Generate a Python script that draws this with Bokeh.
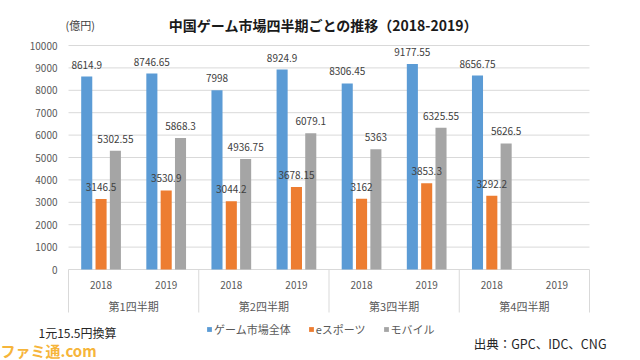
import math
from bokeh.plotting import figure
from bokeh.models import Range1d, FixedTicker, Legend, LegendItem, ColumnDataSource
from bokeh.core.properties import value
from bokeh.embed import file_html
from bokeh.resources import INLINE

# ---------------- data ----------------
quarters = ["第1四半期", "第2四半期", "第3四半期", "第4四半期"]
years = ["2018", "2019"]
series_names = ["ゲーム市場全体", "eスポーツ", "モバイル"]
market_total = [8614.9, 8746.65, 7998, 8924.9, 8306.45, 9177.55, 8656.75, float("nan")]
esports = [3146.5, 3530.9, 3044.2, 3678.15, 3162, 3853.3, 3292.2, float("nan")]
mobile = [5302.55, 5868.3, 4936.75, 6079.1, 5363, 6325.55, 5626.5, float("nan")]
y_ticks = [0, 1000, 2000, 3000, 4000, 5000, 6000, 7000, 8000, 9000, 10000]

title_text = "中国ゲーム市場四半期ごとの推移（2018-2019）"
unit_text = "(億円)"
note_text = "1元15.5円換算"
source_text = "出典：GPC、IDC、CNG"
logo_text = "ファミ通.com"

# ---------------- style / layout ----------------
FONT = "Noto Sans CJK JP"
colors = ["#5B9BD5", "#ED7D31", "#A5A5A5"]
GRID = "#D9D9D9"
W, H = 640, 360
PLOT_L, PLOT_R = 68, 589            # pixel extent of the category area
Y0_PX, Y10K_PX = 269, 45            # pixel rows of value 0 and 10000
LABEL_RIGHT = 57                    # right edge of the y tick labels
Y_MAX = y_ticks[-1]

def py(row):
    return (Y0_PX - row) / (Y0_PX - Y10K_PX) * Y_MAX

n_slots = len(quarters) * len(years)
slot_px = (PLOT_R - PLOT_L) / n_slots

def px(col):
    return (col - PLOT_L) / slot_px

p = figure(width=W, height=H, output_backend="svg", toolbar_location=None,
           x_range=Range1d(px(0), px(W)), y_range=Range1d(py(H), py(0)),
           x_axis_location=None, y_axis_location="left", min_border=0,
           min_border_left=0, min_border_right=0, min_border_top=0, min_border_bottom=0)
p.outline_line_color = None
p.background_fill_color = "white"
p.border_fill_color = "white"
p.grid.visible = False

ax = p.yaxis[0]
ax.ticker = FixedTicker(ticks=y_ticks)
ax.axis_line_color = None
ax.major_tick_line_color = None
ax.minor_tick_line_color = None
ax.major_tick_out = 0
ax.major_tick_in = 0
ax.major_label_standoff = -LABEL_RIGHT
ax.major_label_text_font = FONT
ax.major_label_text_font_size = "10px"
ax.major_label_text_color = "#595959"

# horizontal gridlines at the tick values, across the category area
p.segment(x0=[0] * len(y_ticks), y0=y_ticks, x1=[n_slots] * len(y_ticks), y1=y_ticks,
          line_color=GRID, line_width=1)

# category box separators (two-level axis)
sep_x = [q * len(years) for q in range(len(quarters) + 1)]
p.segment(x0=sep_x, y0=[0] * len(sep_x), x1=sep_x, y1=[py(312)] * len(sep_x),
          line_color=GRID, line_width=1)

# bars
offsets = [-0.22, 0.0, 0.22]
bar_w = 0.17
centers = [i + 0.5 for i in range(n_slots)]
series = [market_total, esports, mobile]
renderers = []
for vals, off, col in zip(series, offsets, colors):
    src = ColumnDataSource(dict(x=[c + off for c in centers], top=vals))
    renderers.append(p.vbar(x="x", top="top", width=bar_w, source=src,
                            fill_color=col, line_color=None))

# value labels on top of everything
for vals, off in zip(series, offsets):
    lx = [c + off for c, v in zip(centers, vals) if not math.isnan(v)]
    ly = [v for v in vals if not math.isnan(v)]
    lt = [f"{v:g}" for v in ly]
    p.text(x=lx, y=ly, text=lt, text_align="center", text_baseline="middle",
           y_offset=-12, text_font=value(FONT), text_font_size="10px",
           text_color="#404040")

# category labels
year_labels = [y for _ in quarters for y in years]
p.text(x=centers, y=[py(284)] * n_slots, text=year_labels, text_align="center",
       text_baseline="middle", text_font=value(FONT), text_font_size="10px",
       text_color="#595959")
qx = [q * len(years) + len(years) / 2 for q in range(len(quarters))]
p.text(x=qx, y=[py(305)] * len(quarters), text=quarters, text_align="center",
       text_baseline="middle", text_font=value(FONT), text_font_size="11px",
       text_color="#595959")

# title and unit
p.text(x=[px(323)], y=[py(24)], text=[title_text], text_align="center",
       text_baseline="middle", text_font=value(FONT), text_font_size="14px",
       text_font_style="bold", text_color="#1a1a1a")
p.text(x=[px(65)], y=[py(24)], text=[unit_text], text_align="left",
       text_baseline="middle", text_font=value(FONT), text_font_size="11px",
       text_color="#404040")

# legend
legend = Legend(items=[LegendItem(label=n, renderers=[r]) for n, r in zip(series_names, renderers)],
                location=(206, 23), orientation="horizontal",
                border_line_color=None, background_fill_alpha=0,
                glyph_width=6, glyph_height=6, label_height=14, label_width=10,
                label_standoff=2, spacing=17, padding=0, margin=0,
                label_text_font=FONT, label_text_font_size="11px",
                label_text_color="#595959")
p.add_layout(legend)

# footnotes
p.text(x=[px(38)], y=[py(332)], text=[note_text], text_align="left", text_baseline="middle",
       text_font=value(FONT), text_font_size="12px", text_color="#262626")
p.text(x=[px(606)], y=[py(343)], text=[source_text], text_align="right", text_baseline="middle",
       text_font=value(FONT), text_font_size="12.5px", text_color="#262626")
p.text(x=[px(0)], y=[py(350)], text=[logo_text], text_align="left", text_baseline="middle",
       text_font=value(FONT), text_font_size="15px", text_font_style="bold",
       text_color="#F6B53A")

open("out.html", "w").write(file_html(p, INLINE))
